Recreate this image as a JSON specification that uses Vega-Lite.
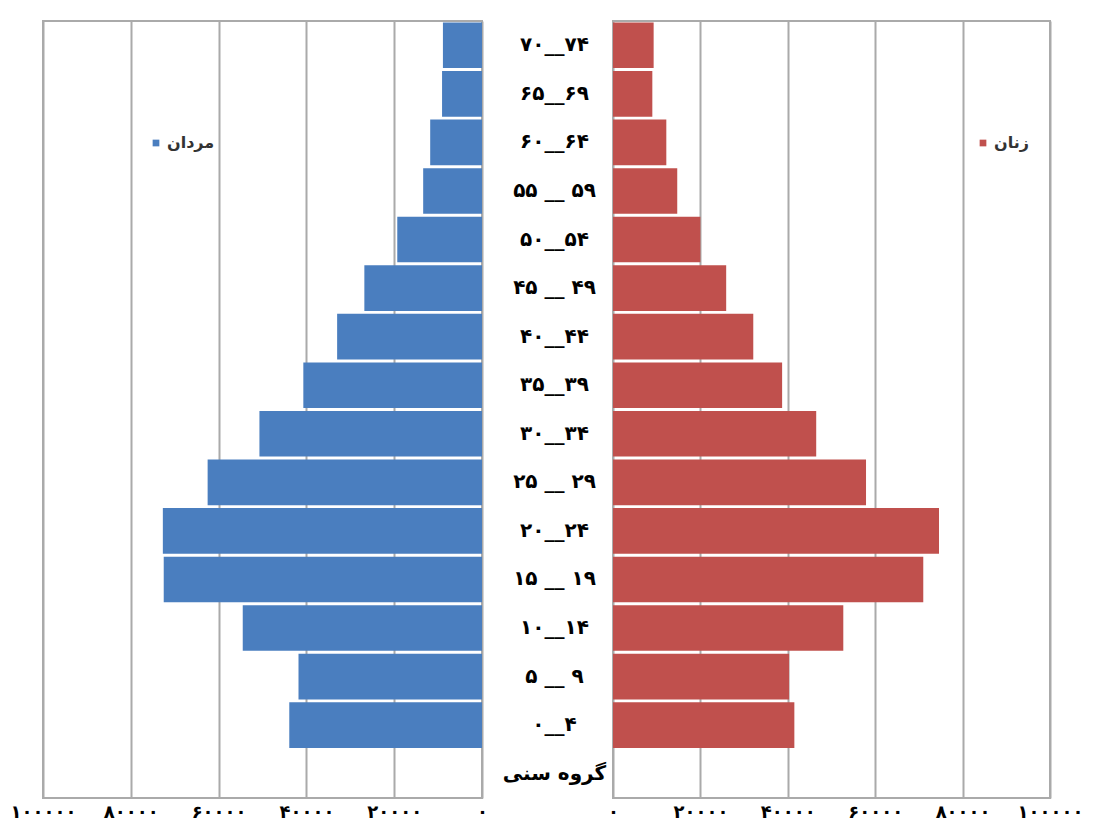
{
  "$schema": "https://vega.github.io/schema/vega-lite/v6.json",
  "padding": {"left": 9, "top": 20, "right": 5, "bottom": 0},
  "background": "white",
  "bounds": "flush",
  "data": {"values": [
    {"age": "۷۰__۷۴", "men": 8900, "women": 9300},
    {"age": "۶۵__۶۹", "men": 9100, "women": 9000},
    {"age": "۶۰__۶۴", "men": 11800, "women": 12200},
    {"age": "۵۵ __ ۵۹", "men": 13400, "women": 14700},
    {"age": "۵۰__۵۴", "men": 19300, "women": 20000},
    {"age": "۴۵ __ ۴۹", "men": 26800, "women": 25900},
    {"age": "۴۰__۴۴", "men": 33000, "women": 32100},
    {"age": "۳۵__۳۹", "men": 40700, "women": 38700},
    {"age": "۳۰__۳۴", "men": 50700, "women": 46500},
    {"age": "۲۵ __ ۲۹", "men": 62500, "women": 57900},
    {"age": "۲۰__۲۴", "men": 72700, "women": 74600},
    {"age": "۱۵ __ ۱۹", "men": 72500, "women": 71000},
    {"age": "۱۰__۱۴", "men": 54500, "women": 52700},
    {"age": "۵ __ ۹", "men": 41800, "women": 40300},
    {"age": "۰__۴", "men": 43900, "women": 41500},
    {"age": "گروه سنی", "men": null, "women": null}
  ]},
  "spacing": 0,
  "resolve": {"scale": {"color": "independent"}, "legend": {"color": "independent"}},
  "hconcat": [
    {
      "width": 439,
      "height": 777,
      "mark": {"type": "bar"},
      "encoding": {
        "y": {"field": "age", "type": "nominal", "sort": null,
              "scale": {"domain": ["۷۰__۷۴","۶۵__۶۹","۶۰__۶۴","۵۵ __ ۵۹","۵۰__۵۴","۴۵ __ ۴۹","۴۰__۴۴","۳۵__۳۹","۳۰__۳۴","۲۵ __ ۲۹","۲۰__۲۴","۱۵ __ ۱۹","۱۰__۱۴","۵ __ ۹","۰__۴","گروه سنی"], "paddingInner": 0.06, "paddingOuter": 0.03},
              "axis": null},
        "x": {"field": "men", "type": "quantitative",
              "scale": {"domain": [0, 100000], "reverse": true, "nice": false},
              "axis": {"title": null, "values": [0, 20000, 40000, 60000, 80000, 100000],
                       "labelExpr": "datum.value == 0 ? '۰' : datum.value == 20000 ? '۲۰۰۰۰' : datum.value == 40000 ? '۴۰۰۰۰' : datum.value == 60000 ? '۶۰۰۰۰' : datum.value == 80000 ? '۸۰۰۰۰' : '۱۰۰۰۰۰'"}},
        "color": {"datum": "مردان", "type": "nominal", "scale": {"range": ["#4A7EBF"]},
                  "legend": {"title": null, "orient": "none", "legendX": 105, "legendY": 114, "padding": 0}}
      }
    },
    {
      "width": 131,
      "height": 777,
      "view": {"stroke": null},
      "mark": {"type": "text", "font": "DejaVu Sans", "fontWeight": "bold", "fontSize": 20, "color": "black", "dx": 7},
      "encoding": {
        "y": {"field": "age", "type": "nominal", "sort": null,
              "scale": {"domain": ["۷۰__۷۴","۶۵__۶۹","۶۰__۶۴","۵۵ __ ۵۹","۵۰__۵۴","۴۵ __ ۴۹","۴۰__۴۴","۳۵__۳۹","۳۰__۳۴","۲۵ __ ۲۹","۲۰__۲۴","۱۵ __ ۱۹","۱۰__۱۴","۵ __ ۹","۰__۴","گروه سنی"], "paddingInner": 0.06, "paddingOuter": 0.03},
              "axis": null},
        "text": {"field": "age"}
      }
    },
    {
      "width": 437,
      "height": 777,
      "mark": {"type": "bar"},
      "encoding": {
        "y": {"field": "age", "type": "nominal", "sort": null,
              "scale": {"domain": ["۷۰__۷۴","۶۵__۶۹","۶۰__۶۴","۵۵ __ ۵۹","۵۰__۵۴","۴۵ __ ۴۹","۴۰__۴۴","۳۵__۳۹","۳۰__۳۴","۲۵ __ ۲۹","۲۰__۲۴","۱۵ __ ۱۹","۱۰__۱۴","۵ __ ۹","۰__۴","گروه سنی"], "paddingInner": 0.06, "paddingOuter": 0.03},
              "axis": null},
        "x": {"field": "women", "type": "quantitative",
              "scale": {"domain": [0, 100000], "nice": false},
              "axis": {"title": null, "values": [0, 20000, 40000, 60000, 80000, 100000],
                       "labelExpr": "datum.value == 0 ? '۰' : datum.value == 20000 ? '۲۰۰۰۰' : datum.value == 40000 ? '۴۰۰۰۰' : datum.value == 60000 ? '۶۰۰۰۰' : datum.value == 80000 ? '۸۰۰۰۰' : '۱۰۰۰۰۰'"}},
        "color": {"datum": "زنان", "type": "nominal", "scale": {"range": ["#C0504D"]},
                  "legend": {"title": null, "orient": "none", "legendX": 362, "legendY": 114, "padding": 0}}
      }
    }
  ],
  "config": {
    "view": {"stroke": "#aaaaaa", "strokeWidth": 2},
    "axis": {"grid": true, "gridColor": "#aaaaaa", "gridWidth": 2, "domain": false, "ticks": false, "labelFlush": false,
             "labelFont": "DejaVu Sans", "labelFontWeight": "bold", "labelFontSize": 18, "labelColor": "black", "labelPadding": 5},
    "legend": {"symbolType": "square", "symbolSize": 45, "labelFont": "DejaVu Sans", "labelFontWeight": "bold", "labelFontSize": 16, "labelColor": "#333333", "labelOffset": 3}
  }
}
